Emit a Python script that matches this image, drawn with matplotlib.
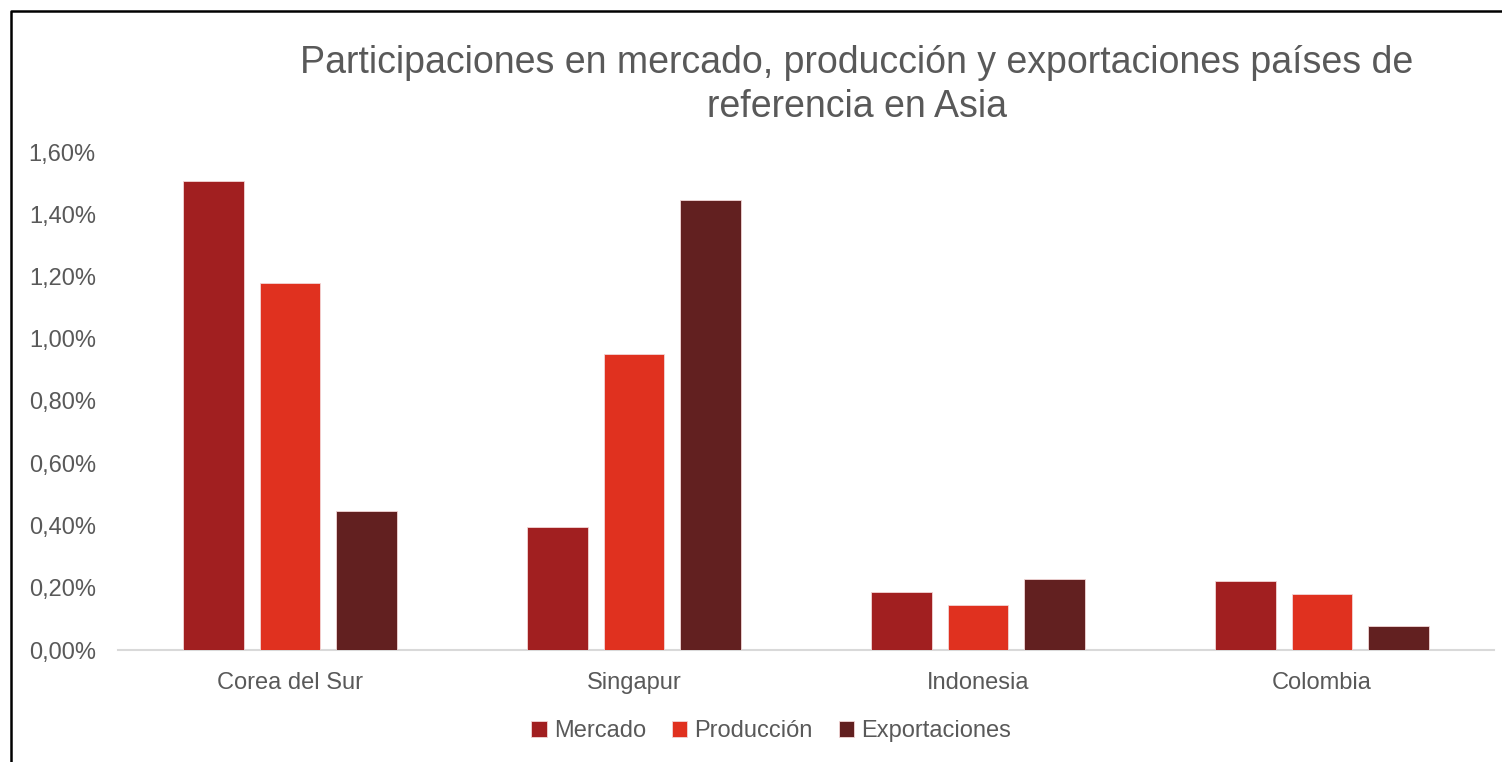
import numpy as np
import matplotlib
matplotlib.use("Agg")
import matplotlib.pyplot as plt
from matplotlib.lines import Line2D
from matplotlib.ticker import FuncFormatter

paises = ["Corea del Sur", "Singapur", "Indonesia", "Colombia"]
series = ["Mercado", "Producción", "Exportaciones"]
mercado = [1.507, 0.395, 0.186, 0.221]
produccion = [1.179, 0.951, 0.144, 0.180]
exportaciones = [0.447, 1.446, 0.229, 0.076]
colores = ["#A11F20", "#E0311F", "#622020"]

plt.rcParams["font.family"] = ["Liberation Sans", "DejaVu Sans"]
gris = "#595959"

fig = plt.figure(figsize=(15.02, 7.62), dpi=100)
ax = fig.add_axes([118 / 1502, 1 - 650 / 762, (1494 - 118) / 1502, (650 - 152) / 762])

x = np.arange(len(paises))
ancho = 0.175
paso = 0.2225
for i, (vals, nombre) in enumerate(zip([mercado, produccion, exportaciones], series)):
    ax.bar(x + (i - 1) * paso, vals, width=ancho, color=colores[i], label=nombre,
           edgecolor="#f2d6d6", linewidth=0.6, zorder=3)

ax.set_xlim(-0.5, len(paises) - 0.5)
ax.set_ylim(0, 1.6)
ax.set_yticks(np.arange(0, 1.61, 0.2))
ax.yaxis.set_major_formatter(FuncFormatter(lambda v, p: f"{v:.2f}%".replace(".", ",")))
ax.set_xticks(x)
ax.set_xticklabels(paises)
ax.tick_params(axis="both", length=0, labelsize=17, colors=gris)
ax.tick_params(axis="y", pad=16)
ax.tick_params(axis="x", pad=16)
for s in ["top", "right", "left"]:
    ax.spines[s].set_visible(False)
ax.spines["bottom"].set_color("#d9d9d9")
ax.spines["bottom"].set_linewidth(1.5)

fig.text(857 / 1502, 1 - 85 / 762,
         "Participaciones en mercado, producción y exportaciones países de\nreferencia en Asia",
         ha="center", va="center", fontsize=27, color=gris, linespacing=1.3)

fig.legend(loc="center", bbox_to_anchor=(771 / 1502, 1 - 731 / 762), ncol=3, frameon=False,
           fontsize=17, labelcolor=gris, handlelength=0.65, handleheight=0.65,
           handletextpad=0.3, columnspacing=1.1)

# marco negro (solo izquierda y arriba visibles)
fig.add_artist(Line2D([11 / 1502, 11 / 1502, 1.0], [0.0, 1 - 11 / 762, 1 - 11 / 762],
                      transform=fig.transFigure, color="black", linewidth=1.8))

fig.savefig("out.png", dpi=100, facecolor="white")
